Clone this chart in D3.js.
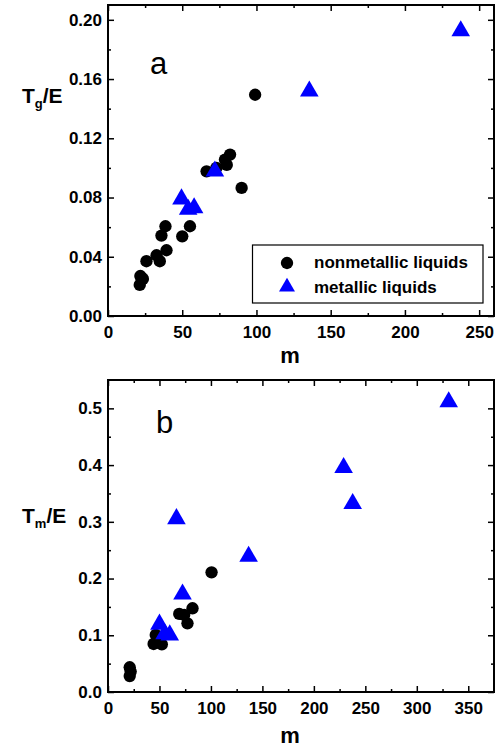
<!DOCTYPE html>
<html><head><meta charset="utf-8">
<script src="https://cdn.jsdelivr.net/npm/d3@7"></script>
<style>body{margin:0;background:#fff}svg{display:block}text{font-family:"Liberation Sans",Arial,sans-serif}</style>
</head><body><svg id="c" width="503" height="747"></svg>
<script>
// Panel a: Tg/E vs m
const aNonM = [21.4,21.8,22.5,23.5,25.9,32.7,34.9,39.4,36,38.7,50,55.2,66.4,73,78.8,80,82.2,90,99.1];
const aNonV = [0.021,0.027,0.026,0.025,0.037,0.041,0.037,0.0444,0.0543,0.0606,0.0538,0.0606,0.0977,0.1,0.1056,0.102,0.109,0.0865,0.1494];
const aMetM = [49.5,54,58,72,135.6,237.6];
const aMetV = [0.080,0.073,0.074,0.0988,0.1528,0.1935];
// Panel b: Tm/E vs m
const bNonM = [21.1,21.1,22,44.3,52.3,46.4,69.2,82.1,77.2,74,100.6];
const bNonV = [0.0436,0.028,0.036,0.0847,0.084,0.1005,0.1376,0.1476,0.121,0.1358,0.211];
const bMetM = [50,55,60,66.5,72.4,136.6,228.9,237.7,331];
const bMetV = [0.122,0.105,0.103,0.308,0.175,0.2416,0.398,0.3346,0.514];
const aXTicks = [0,50,100,150,200,250];
const aYTicks = [0,0.04,0.08,0.12,0.16,0.20];
const bXTicks = [0,50,100,150,200,250,300,350];
const bYTicks = [0,0.1,0.2,0.3,0.4,0.5];
const legendLabels = ["nonmetallic liquids","metallic liquids"];

const svg = d3.select("#c");
const circ = d3.symbol().type(d3.symbolCircle).size(120);
const tri = d3.symbol().type(d3.symbolTriangle).size(150);

function panel(o){
  const x = d3.scaleLinear().domain(o.xd).range([108,494]);
  const y = d3.scaleLinear().domain(o.yd).range([o.bottom,o.top]);
  const g = svg.append("g");
  const xb = g.append("g").attr("transform",`translate(0,${o.bottom})`)
    .call(d3.axisBottom(x).tickValues(o.xt).tickSizeInner(-6).tickSizeOuter(0).tickPadding(10).tickFormat(d3.format("d")));
  xb.select(".domain").remove();
  xb.selectAll(".tick line").attr("stroke","#000").attr("stroke-width",1.5);
  xb.selectAll("text").attr("font-size",17).attr("font-weight","bold").attr("fill","#000");
  const yl = g.append("g").attr("transform","translate(108,0)")
    .call(d3.axisLeft(y).tickValues(o.yt).tickSizeInner(-6).tickSizeOuter(0).tickPadding(6).tickFormat(d3.format(o.yf)));
  yl.select(".domain").remove();
  yl.selectAll(".tick line").attr("stroke","#000").attr("stroke-width",1.5);
  yl.selectAll("text").attr("font-size",17).attr("font-weight","bold").attr("fill","#000");
  const xt = g.append("g").attr("transform",`translate(0,${o.top})`)
    .call(d3.axisTop(x).tickValues(o.xt).tickSizeInner(-6).tickSizeOuter(0).tickFormat(""));
  const yr = g.append("g").attr("transform","translate(494,0)")
    .call(d3.axisRight(y).tickValues(o.yt).tickSizeInner(-6).tickSizeOuter(0).tickFormat(""));
  const xm = o.xt.slice(0,-1).map((d,i)=>(d+o.xt[i+1])/2).concat([o.xt[o.xt.length-1]+(o.xt[1]-o.xt[0])/2]).filter(d=>d<o.xd[1]);
  const ym = o.yt.slice(0,-1).map((d,i)=>(d+o.yt[i+1])/2).concat([o.yt[o.yt.length-1]+(o.yt[1]-o.yt[0])/2]).filter(d=>d<o.yd[1]);
  const a1 = g.append("g").attr("transform",`translate(0,${o.bottom})`).call(d3.axisBottom(x).tickValues(xm).tickSizeInner(-3).tickSizeOuter(0).tickFormat(""));
  const a2 = g.append("g").attr("transform",`translate(0,${o.top})`).call(d3.axisTop(x).tickValues(xm).tickSizeInner(-3).tickSizeOuter(0).tickFormat(""));
  const a3 = g.append("g").attr("transform","translate(108,0)").call(d3.axisLeft(y).tickValues(ym).tickSizeInner(-3).tickSizeOuter(0).tickFormat(""));
  const a4 = g.append("g").attr("transform","translate(494,0)").call(d3.axisRight(y).tickValues(ym).tickSizeInner(-3).tickSizeOuter(0).tickFormat(""));
  [xt,yr,a1,a2,a3,a4].forEach(s=>{s.select(".domain").remove();s.selectAll(".tick line").attr("stroke","#000").attr("stroke-width",1.5);});
  g.append("rect").attr("x",108).attr("y",o.top).attr("width",386).attr("height",o.bottom-o.top)
    .attr("fill","none").attr("stroke","#000").attr("stroke-width",2);
  const pts = g.append("g");
  o.nm.forEach((m,i)=>pts.append("path").attr("d",circ).attr("transform",`translate(${x(m)},${y(o.nv[i])})`).attr("fill","#000"));
  o.mm.forEach((m,i)=>pts.append("path").attr("d",tri).attr("transform",`translate(${x(m)},${y(o.mv[i])+1.5})`).attr("fill","#0000ff"));
  g.append("text").attr("x",290).attr("y",o.xtitleY).attr("text-anchor","middle").attr("font-size",22).attr("font-weight","bold").text("m");
  const yt = g.append("text").attr("x",22).attr("y",o.ytitleY).attr("font-size",21).attr("font-weight","bold");
  yt.append("tspan").text("T");
  yt.append("tspan").attr("font-size",13).attr("dy",5).text(o.sub);
  yt.append("tspan").attr("dy",-5).text("/E");
  g.append("text").attr("x",o.letterX).attr("y",o.letterY).attr("font-size",31).text(o.letter);
  return {x,y,g};
}

panel({xd:[0,260],yd:[0,0.21],top:5,bottom:316,xt:aXTicks,yt:aYTicks,yf:".2f",
  nm:aNonM,nv:aNonV,mm:aMetM,mv:aMetV,xtitleY:363,ytitleY:103,sub:"g",letter:"a",letterX:150,letterY:74});
panel({xd:[0,375],yd:[0,0.55],top:380,bottom:692,xt:bXTicks,yt:bYTicks,yf:".1f",
  nm:bNonM,nv:bNonV,mm:bMetM,mv:bMetV,xtitleY:743,ytitleY:523,sub:"m",letter:"b",letterX:156,letterY:433});

const lg = svg.append("g");
lg.append("rect").attr("x",252.5).attr("y",245).attr("width",230.5).attr("height",58).attr("fill","#fff").attr("stroke","#000").attr("stroke-width",1.2);
lg.append("path").attr("d",circ).attr("transform","translate(287,263)").attr("fill","#000");
lg.append("path").attr("d",d3.symbol().type(d3.symbolTriangle).size(110)).attr("transform","translate(287,287)").attr("fill","#0000ff");
lg.selectAll("text.l").data(legendLabels).join("text").attr("class","l")
  .attr("x",314).attr("y",(d,i)=>268+i*24.5).attr("font-size",17).attr("font-weight","bold").text(d=>d);
</script></body></html>
